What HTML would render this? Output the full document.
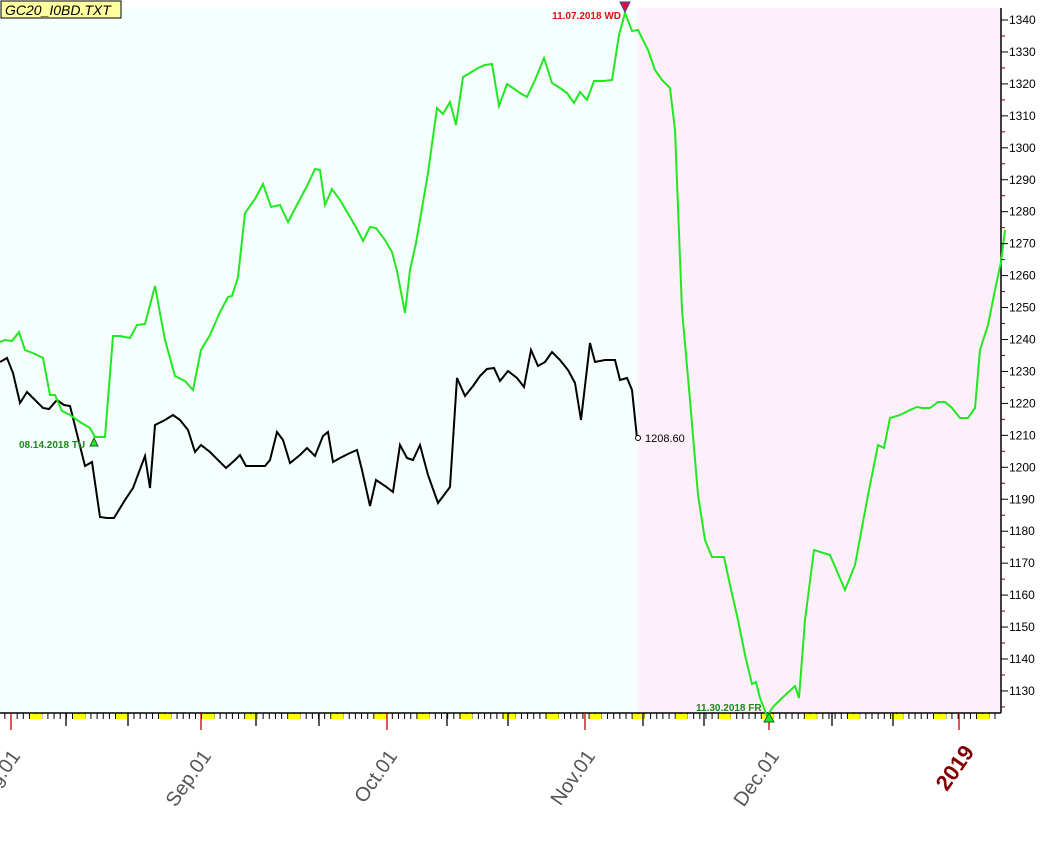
<!DOCTYPE html>
<html><head><meta charset="utf-8"><style>
html,body{margin:0;padding:0;background:#fff;width:1063px;height:849px;overflow:hidden}
svg{display:block;font-family:"Liberation Sans",sans-serif}
</style></head><body>
<svg id="s" width="1063" height="849" viewBox="0 0 1063 849" xmlns="http://www.w3.org/2000/svg">
<rect x="0" y="8" width="638" height="705" fill="#f5fffd"/>
<rect x="638" y="8" width="363" height="705" fill="#fdf0fb"/>
<line x1="0" y1="713" x2="1001" y2="713" stroke="#000" stroke-width="1.5"/>
<line x1="1001" y1="8" x2="1001" y2="713" stroke="#000" stroke-width="1.5"/>
<g id="ticks"></g>
<polyline fill="none" stroke="#000" stroke-width="2" points="0,362 7,358 13,373 20,403 27,392 35,400 43,408 49,409 57,400 64,405 70,406 76,430 85,466 92,462 100,517 107,518 114,518 125,500 133,488 145,456 150,488 155,425 165,420 173,415 180,420 188,430 195,452 201,445 210,452 218,460 226,468 235,460 240,455 246,466 255,466 265,466 270,460 277,432 283,440 290,463 300,455 307,448 315,456 323,436 328,432 333,462 340,458 350,453 357,450 362,470 370,506 376,480 385,486 393,492 400,445 407,458 413,460 420,445 428,475 438,503 450,487 457,378 465,396 473,386 480,376 487,369 494,368 500,381 508,371 517,378 524,387 531,350 538,366 545,362 552,352 560,360 568,370 575,383 581,420 590,343 595,362 605,360 615,360 620,380 627,378 632,390 637,438"/>
<circle cx="638" cy="438" r="2.5" fill="#fff" stroke="#000"/>
<text x="645" y="442" font-size="11" fill="#000">1208.60</text>
<polyline fill="none" stroke="#22e822" stroke-width="2" points="0,342 5,340 12,341 19,332 25,350 35,354 43,358 50,395 55,395 62,411 70,415 80,422 90,428 95,437 105,437 113,336 120,336 130,338 137,325 145,324 155,286 165,340 175,376 185,381 193,390 201,350 210,335 220,312 228,297 232,296 238,277 245,213 255,199 263,184 271,207 280,205 288,222 299,201 307,186 315,169 320,170 325,205 332,189 340,200 350,217 357,229 363,241 370,227 376,228 385,240 392,252 397,271 405,313 410,270 416,243 428,173 437,108 443,114 450,102 456,125 463,77 470,73 478,68 485,65 492,64 499,106 507,84 513,88 520,93 527,97 535,80 544,58 552,83 560,88 567,93 574,103 580,92 587,100 594,81 604,81 612,80 619,35 625,13 632,31 638,30 648,50 655,70 662,80 670,88 675,130 682,310 690,400 698,495 705,540 712,557 724,557 730,585 738,620 745,655 752,684 756,682 760,698 767,716 773,707 780,700 795,686 799,698 805,620 814,550 830,555 845,590 855,565 868,495 878,445 884,448 890,418 900,415 910,410 917,407 922,408 930,408 938,402 945,402 952,408 960,418 968,418 975,408 980,350 988,325 995,290 1001,262 1005,230"/>
<polygon points="620,2 630,2 625,12" fill="#e0103a" stroke="#4040a0" stroke-width="1"/>
<polygon points="764,722 774,722 769,713" fill="#22e822" stroke="#206020" stroke-width="1"/>
<polygon points="90,446 98,446 94,438" fill="#22e822" stroke="#206020" stroke-width="1"/>
<text x="621" y="19" font-size="10" font-weight="bold" fill="#e01010" text-anchor="end">11.07.2018 WD</text>
<text x="19" y="448" font-size="10" font-weight="bold" fill="#1a8a1a">08.14.2018 TU</text>
<text x="696" y="711" font-size="10" font-weight="bold" fill="#1a8a1a">11.30.2018 FR</text>
<rect x="1" y="1" width="120" height="17" fill="#ffffa0" stroke="#000"/>
<text x="5" y="15" font-size="14" font-style="italic" fill="#000">GC20_I0BD.TXT</text>
<g id="yax" font-size="12" fill="#000"></g>
<g font-size="20" fill="#555">
<text transform="translate(21,756) rotate(-55)" text-anchor="end">Aug.01</text>
<text transform="translate(212,756) rotate(-55)" text-anchor="end">Sep.01</text>
<text transform="translate(398,756) rotate(-55)" text-anchor="end">Oct.01</text>
<text transform="translate(596,756) rotate(-55)" text-anchor="end">Nov.01</text>
<text transform="translate(780,756) rotate(-55)" text-anchor="end">Dec.01</text>
<text transform="translate(975,752) rotate(-55)" text-anchor="end" fill="#800000" font-weight="bold" font-size="22">2019</text>
</g>
</svg>
<script>
var NS="http://www.w3.org/2000/svg",t=document.getElementById("ticks"),y=document.getElementById("yax");
function el(n,a,p){var e=document.createElementNS(NS,n);for(var k in a)e.setAttribute(k,a[k]);p.appendChild(e);return e;}
var d=6.15;
for(var i=-2;i<170;i++){var x=11+(i)*d;if(x<0||x>1000)continue;el("line",{x1:x,y1:713,x2:x,y2:719,stroke:"#000","stroke-width":1},t);}
for(var w=0;w<24;w++){var x=30+w*43.05;if(x>998)continue;el("rect",{x:x,y:714,width:12,height:5,fill:"#ffff00"},t);}
[66,128,256,319,447,508,643,704,832,893].forEach(function(x){el("line",{x1:x,y1:713,x2:x,y2:726,stroke:"#000","stroke-width":1.3},t);});
[11,201,387,585,769,959].forEach(function(x){el("line",{x1:x,y1:713,x2:x,y2:730,stroke:"#c00000","stroke-width":1.3},t);});
for(var v=1125;v<=1345;v+=5){var yy=20+(1340-v)*3.195;if(yy<8||yy>713)continue;
 if(v%10==0){el("line",{x1:1001,y1:yy,x2:1008,y2:yy,stroke:"#000"},y);var tx=el("text",{x:1009,y:yy+4},y);tx.textContent=v;}
 else el("line",{x1:1001,y1:yy,x2:1005,y2:yy,stroke:"#800000"},y);}
</script>
</body></html>
